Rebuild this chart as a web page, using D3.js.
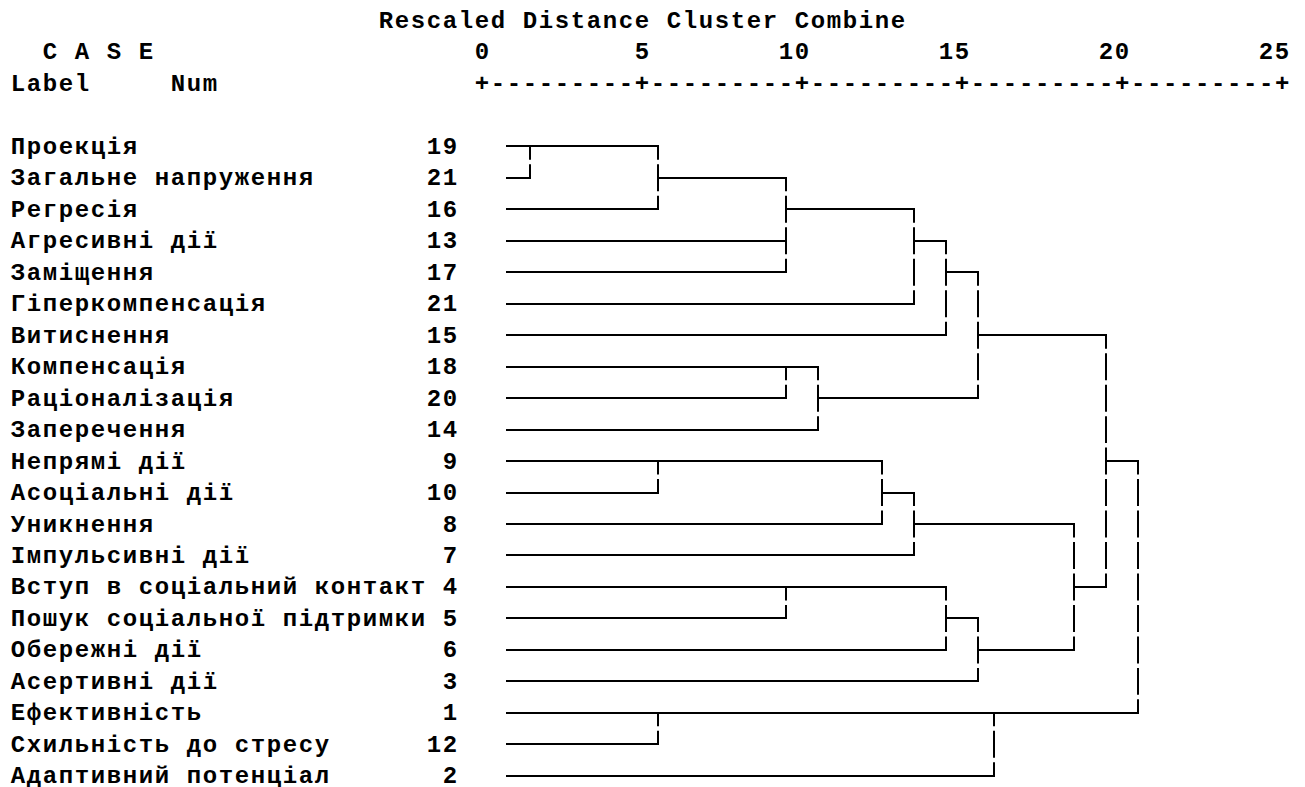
<!DOCTYPE html>
<html>
<head>
<meta charset="utf-8">
<script src="https://cdn.jsdelivr.net/npm/d3@7/dist/d3.min.js"></script>
<style>
  html, body { margin: 0; padding: 0; background: #fff; }
  svg { display: block; }
  text { font-family: "Liberation Mono", "Courier New", monospace; font-weight: bold; font-size: 24px; letter-spacing: 1.6px; fill: #000; }
</style>
</head>
<body>
<svg id="chart" width="1305" height="787"></svg>
<script>
// ---- data ----
const titleText = "Rescaled Distance Cluster Combine";
const caseHeader = "C A S E";
const labelHeader = "Label";
const numHeader = "Num";
const distTicks = [0, 5, 10, 15, 20, 25];

const labels = [
  "Проекція", "Загальне напруження", "Регресія", "Агресивні дії", "Заміщення",
  "Гіперкомпенсація", "Витиснення", "Компенсація", "Раціоналізація", "Заперечення",
  "Непрямі дії", "Асоціальні дії", "Уникнення", "Імпульсивні дії",
  "Вступ в соціальний контакт", "Пошук соціальної підтримки", "Обережні дії",
  "Асертивні дії", "Ефективність", "Схильність до стресу", "Адаптивний потенціал"
];
const caseNums = [19, 21, 16, 13, 17, 21, 15, 18, 20, 14, 9, 10, 8, 7, 4, 5, 6, 3, 1, 12, 2];

// agglomeration: node ids 0..20 are cases, merge k creates node 21+k
const mergeLeft  = [0, 21, 3, 22, 24, 25, 7, 27, 26, 10, 30, 31, 14, 33, 34, 32, 29, 18, 38, 37];
const mergeRight = [1, 2, 4, 23, 5, 6, 8, 9, 28, 11, 12, 13, 15, 16, 17, 35, 36, 19, 20, 39];
const mergeDist  = [1.5, 5.5, 9.5, 9.5, 13.5, 14.5, 9.5, 10.5, 15.5, 5.5, 12.5, 13.5, 9.5, 14.5, 15.5, 18.5, 19.5, 5.5, 16.0, 20.5];
const exitRowOverride = { 18: 18 }; // merge index -> row where its line leaves

// ---- layout ----
const svg = d3.select("#chart");
const colW = 16, left = 10, ls = 0.8;
const colX = c => left + colW * c + ls;
const HEADER_ROWS = 4;
const rowY = d3.scaleLinear().domain([0, 1]).range([20.5, 20.5 + 31.47]);
const leafY = i => rowY(i + HEADER_ROWS);
const base = r => rowY(r) + 7.5;
const x = d3.scaleLinear().domain([0, 25]).range([482, 1282]);
const xCol = v => Math.round((x(v) - 8 - left) / colW);
const leafStart = x(0.75);

// header
const gT = svg.append("g");
gT.append("text").attr("x", colX(23)).attr("y", base(0)).text(titleText);
gT.append("text").attr("x", colX(2)).attr("y", base(1)).text(caseHeader);
gT.append("text").attr("x", colX(0)).attr("y", base(2)).text(labelHeader);
gT.append("text").attr("x", colX(10)).attr("y", base(2)).text(numHeader);

// axis tick labels (right-aligned on the '+' column)
gT.selectAll("text.tick").data(distTicks).join("text")
  .attr("class", "tick")
  .attr("x", t => colX(xCol(t) - String(t).length + 1))
  .attr("y", base(1))
  .text(t => String(t));

// ruler
const ruler = distTicks.map((t, i) => {
  if (i === 0) return "+";
  const gap = xCol(t) - xCol(distTicks[i - 1]) - 1;
  return "-".repeat(gap) + "+";
}).join("");
gT.append("text").attr("x", colX(xCol(distTicks[0]))).attr("y", base(2)).text(ruler);

// case labels and numbers
const numEndCol = 27;
gT.selectAll("text.lab").data(labels).join("text")
  .attr("class", "lab").attr("x", colX(0)).attr("y", (d, i) => base(i + HEADER_ROWS)).text(d => d);
gT.selectAll("text.num").data(caseNums).join("text")
  .attr("class", "num")
  .attr("x", d => colX(numEndCol - String(d).length + 1))
  .attr("y", (d, i) => base(i + HEADER_ROWS)).text(d => String(d));

// ---- dendrogram geometry ----
const nLeaf = labels.length;
const nodeRow = [], nodeDist = [];
for (let i = 0; i < nLeaf; i++) { nodeRow[i] = i; nodeDist[i] = null; }
const hSegs = [], vSegs = [];
mergeLeft.forEach((a, k) => {
  const b = mergeRight[k], d = mergeDist[k], id = nLeaf + k;
  [a, b].forEach(c => {
    const x0 = nodeDist[c] === null ? leafStart : x(nodeDist[c]);
    hSegs.push({ x0: x0, x1: x(d) + 1, y: leafY(nodeRow[c]) });
  });
  const r0 = Math.min(nodeRow[a], nodeRow[b]), r1 = Math.max(nodeRow[a], nodeRow[b]);
  vSegs.push({ x: x(d), r0: r0, r1: r1 });
  nodeRow[id] = exitRowOverride[k] !== undefined ? exitRowOverride[k] : Math.floor((nodeRow[a] + nodeRow[b]) / 2);
  nodeDist[id] = d;
});

const gL = svg.append("g").attr("stroke", "#000").attr("stroke-width", 2).attr("fill", "none");
gL.selectAll("line.h").data(hSegs.filter(s => s.x1 - s.x0 > 1.5)).join("line")
  .attr("class", "h")
  .attr("x1", s => s.x0).attr("x2", s => s.x1)
  .attr("y1", s => Math.round(s.y)).attr("y2", s => Math.round(s.y));

// vertical lines are broken at each text-row boundary (character-cell look)
const gap = 4.5;
const vPieces = [];
vSegs.forEach(v => {
  for (let r = v.r0; r < v.r1; r++) {
    const yTop = r === v.r0 ? Math.round(leafY(r)) - 1 : (leafY(r - 1) + leafY(r)) / 2 + gap / 2;
    const yBot = (leafY(r) + leafY(r + 1)) / 2 - gap / 2;
    vPieces.push({ x: v.x, y0: yTop, y1: yBot });
  }
  const rl = v.r1;
  vPieces.push({ x: v.x, y0: (leafY(rl - 1) + leafY(rl)) / 2 + gap / 2, y1: Math.round(leafY(rl)) + 1 });
});
gL.selectAll("line.v").data(vPieces).join("line")
  .attr("class", "v")
  .attr("x1", p => p.x).attr("x2", p => p.x)
  .attr("y1", p => p.y0).attr("y2", p => p.y1);
</script>
</body>
</html>
